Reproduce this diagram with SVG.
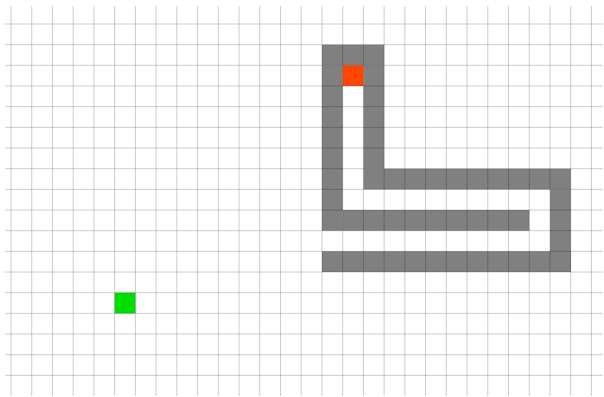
<svg xmlns="http://www.w3.org/2000/svg" width="604" height="397" viewBox="0 0 604 397">
<style>
.wall{fill:#808080}
.grid line{stroke:#000;stroke-opacity:0.2;stroke-width:1}
</style>
<rect width="604" height="397" fill="#fff"/>
<g id="walls" class="wall">
<rect x="322.0" y="44.7" width="62.2" height="20.7"/>
<rect x="322.0" y="65.3" width="20.7" height="165.4"/>
<rect x="363.5" y="65.3" width="20.7" height="103.4"/>
<rect x="363.5" y="168.7" width="207.3" height="20.7"/>
<rect x="550.1" y="189.3" width="20.7" height="82.7"/>
<rect x="342.7" y="210.0" width="186.6" height="20.7"/>
<rect x="322.0" y="251.3" width="248.8" height="20.7"/>
</g>
<g id="goal"><rect x="342.7" y="65.3" width="20.7" height="20.7" fill="#ff4500"/></g>
<g id="start"><rect x="114.7" y="292.7" width="20.7" height="20.7" fill="#00dd00"/></g>
<g id="grid" class="grid">
<line x1="11" y1="6" x2="11" y2="396"/>
<line x1="31.73" y1="6" x2="31.73" y2="396"/>
<line x1="52.46" y1="6" x2="52.46" y2="396"/>
<line x1="73.19" y1="6" x2="73.19" y2="396"/>
<line x1="93.92" y1="6" x2="93.92" y2="396"/>
<line x1="114.65" y1="6" x2="114.65" y2="396"/>
<line x1="135.38" y1="6" x2="135.38" y2="396"/>
<line x1="156.11" y1="6" x2="156.11" y2="396"/>
<line x1="176.84" y1="6" x2="176.84" y2="396"/>
<line x1="197.57" y1="6" x2="197.57" y2="396"/>
<line x1="218.3" y1="6" x2="218.3" y2="396"/>
<line x1="239.03" y1="6" x2="239.03" y2="396"/>
<line x1="259.76" y1="6" x2="259.76" y2="396"/>
<line x1="280.49" y1="6" x2="280.49" y2="396"/>
<line x1="301.22" y1="6" x2="301.22" y2="396"/>
<line x1="321.95" y1="6" x2="321.95" y2="396"/>
<line x1="342.68" y1="6" x2="342.68" y2="396"/>
<line x1="363.41" y1="6" x2="363.41" y2="396"/>
<line x1="384.14" y1="6" x2="384.14" y2="396"/>
<line x1="404.87" y1="6" x2="404.87" y2="396"/>
<line x1="425.6" y1="6" x2="425.6" y2="396"/>
<line x1="446.33" y1="6" x2="446.33" y2="396"/>
<line x1="467.06" y1="6" x2="467.06" y2="396"/>
<line x1="487.79" y1="6" x2="487.79" y2="396"/>
<line x1="508.52" y1="6" x2="508.52" y2="396"/>
<line x1="529.25" y1="6" x2="529.25" y2="396"/>
<line x1="549.98" y1="6" x2="549.98" y2="396"/>
<line x1="570.71" y1="6" x2="570.71" y2="396"/>
<line x1="591.44" y1="6" x2="591.44" y2="396"/>
<line x1="5" y1="24" x2="603" y2="24"/>
<line x1="5" y1="44.67" x2="603" y2="44.67"/>
<line x1="5" y1="65.34" x2="603" y2="65.34"/>
<line x1="5" y1="86.01" x2="603" y2="86.01"/>
<line x1="5" y1="106.68" x2="603" y2="106.68"/>
<line x1="5" y1="127.35" x2="603" y2="127.35"/>
<line x1="5" y1="148.02" x2="603" y2="148.02"/>
<line x1="5" y1="168.69" x2="603" y2="168.69"/>
<line x1="5" y1="189.36" x2="603" y2="189.36"/>
<line x1="5" y1="210.03" x2="603" y2="210.03"/>
<line x1="5" y1="230.7" x2="603" y2="230.7"/>
<line x1="5" y1="251.37" x2="603" y2="251.37"/>
<line x1="5" y1="272.04" x2="603" y2="272.04"/>
<line x1="5" y1="292.71" x2="603" y2="292.71"/>
<line x1="5" y1="313.38" x2="603" y2="313.38"/>
<line x1="5" y1="334.05" x2="603" y2="334.05"/>
<line x1="5" y1="354.72" x2="603" y2="354.72"/>
<line x1="5" y1="375.39" x2="603" y2="375.39"/>
</g>
</svg>
